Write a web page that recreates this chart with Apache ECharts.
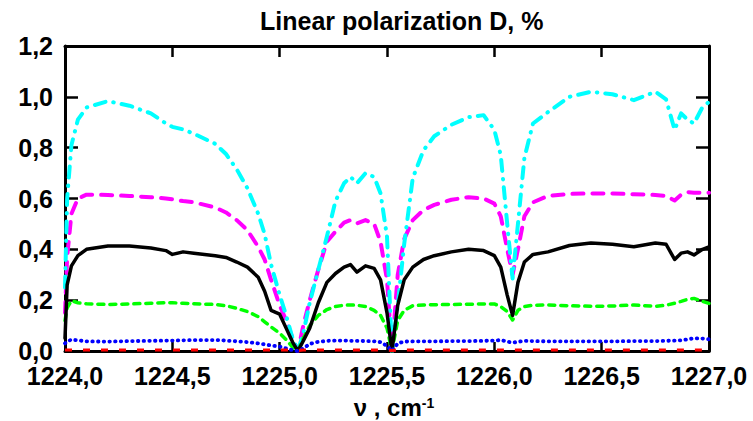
<!DOCTYPE html>
<html>
<head>
<meta charset="utf-8">
<script src="https://cdn.jsdelivr.net/npm/echarts@6/dist/echarts.min.js"></script>
<style>
  html, body { margin: 0; padding: 0; background: #fff; }
  #chart { width: 753px; height: 421px; }
</style>
</head>
<body>
<div id="chart"></div>
<script>
// Wavenumber grid (cm^-1), denser around the absorption lines
const wavenumbers = [
  1224.00, 1224.01, 1224.03, 1224.06, 1224.10, 1224.20, 1224.30, 1224.40, 1224.47, 1224.50,
  1224.55, 1224.60, 1224.70, 1224.75, 1224.80, 1224.85, 1224.90, 1224.93, 1224.96, 1225.00,
  1225.03, 1225.06, 1225.085, 1225.11, 1225.14, 1225.18, 1225.22, 1225.26, 1225.30, 1225.33,
  1225.36, 1225.40, 1225.44, 1225.47, 1225.50, 1225.523, 1225.55, 1225.58, 1225.62, 1225.67,
  1225.72, 1225.80, 1225.88, 1225.95, 1226.00, 1226.03, 1226.06, 1226.085, 1226.11, 1226.14,
  1226.18, 1226.25, 1226.35, 1226.45, 1226.55, 1226.65, 1226.75, 1226.80, 1226.84, 1226.87,
  1226.90, 1226.93, 1226.97, 1227.00
];

// Degree of linear polarization D, one curve per case
const cyanD = [
  0.25, 0.60, 0.81, 0.91, 0.958, 0.983, 0.965, 0.935, 0.895, 0.882,
  0.872, 0.855, 0.815, 0.775, 0.715, 0.64, 0.54, 0.46, 0.34, 0.22,
  0.14, 0.05, 0.0, 0.07, 0.19, 0.32, 0.45, 0.59, 0.66, 0.685,
  0.66, 0.70, 0.685, 0.62, 0.45, 0.0, 0.18, 0.42, 0.68, 0.79,
  0.845, 0.89, 0.92, 0.928, 0.87, 0.77, 0.50, 0.285, 0.50, 0.76,
  0.895, 0.94, 1.0, 1.02, 1.01, 0.987, 1.02, 0.99, 0.87, 0.935,
  0.91, 0.895, 0.96, 0.98
];

const magentaD = [
  0.15, 0.37, 0.54, 0.60, 0.615, 0.614, 0.61, 0.605, 0.60, 0.597,
  0.59, 0.585, 0.565, 0.545, 0.515, 0.475, 0.41, 0.36, 0.28, 0.18,
  0.12, 0.05, 0.0, 0.10, 0.20, 0.32, 0.43, 0.47, 0.505, 0.515,
  0.502, 0.515, 0.50, 0.43, 0.28, 0.0, 0.30, 0.44, 0.515, 0.555,
  0.575, 0.595, 0.605, 0.60, 0.58, 0.53, 0.40, 0.30, 0.40, 0.53,
  0.585, 0.61, 0.618, 0.62, 0.62, 0.617, 0.614, 0.61, 0.592, 0.615,
  0.625, 0.623, 0.623, 0.623
];

const blackD = [
  0.05, 0.26, 0.335, 0.375, 0.40, 0.413, 0.413, 0.405, 0.395, 0.38,
  0.39, 0.385, 0.375, 0.368, 0.35, 0.33, 0.29, 0.235, 0.16, 0.145,
  0.09, 0.035, 0.0, 0.04, 0.09, 0.19, 0.27, 0.305, 0.33, 0.34,
  0.31, 0.335, 0.325, 0.28, 0.15, 0.0, 0.18, 0.28, 0.33, 0.36,
  0.375, 0.39, 0.40, 0.395, 0.375, 0.33, 0.22, 0.14, 0.27, 0.35,
  0.38, 0.39, 0.415, 0.425, 0.42, 0.41, 0.425, 0.42, 0.36, 0.385,
  0.39, 0.378, 0.40, 0.41
];

const greenD = [
  0.12, 0.17, 0.198, 0.19, 0.186, 0.183, 0.185, 0.188, 0.19, 0.19,
  0.188, 0.186, 0.183, 0.178, 0.168, 0.155, 0.135, 0.115, 0.095, 0.07,
  0.045, 0.015, 0.0, 0.05, 0.10, 0.14, 0.163, 0.175, 0.18, 0.181,
  0.18, 0.175, 0.16, 0.14, 0.09, 0.0, 0.12, 0.16, 0.178, 0.181,
  0.182, 0.183, 0.184, 0.185, 0.185, 0.175, 0.155, 0.122, 0.16, 0.175,
  0.18, 0.181, 0.178, 0.176, 0.177, 0.181, 0.176, 0.18, 0.188, 0.195,
  0.203, 0.207, 0.195, 0.187
];

const blueD = [
  0.03, 0.037, 0.045, 0.042, 0.038, 0.037, 0.039, 0.04, 0.041, 0.041,
  0.042, 0.043, 0.043, 0.041, 0.038, 0.035, 0.03, 0.026, 0.022, 0.017,
  0.01, 0.003, 0.0, 0.01, 0.028, 0.036, 0.04, 0.041, 0.041, 0.04,
  0.04, 0.039, 0.038, 0.035, 0.02, 0.0, 0.03, 0.037, 0.038, 0.038,
  0.038, 0.039, 0.039, 0.04, 0.041, 0.043, 0.037, 0.033, 0.036, 0.04,
  0.039, 0.038, 0.038, 0.038, 0.038, 0.039, 0.039, 0.04, 0.041, 0.042,
  0.046, 0.05, 0.049, 0.046
];

const redD = [
  0.004, 0.004, 0.004, 0.004, 0.004, 0.004, 0.004, 0.004, 0.004, 0.004,
  0.004, 0.004, 0.004, 0.004, 0.004, 0.004, 0.004, 0.004, 0.004, 0.004,
  0.004, 0.004, 0.002, 0.004, 0.004, 0.004, 0.004, 0.004, 0.004, 0.004,
  0.004, 0.004, 0.004, 0.004, 0.004, 0.002, 0.004, 0.004, 0.004, 0.004,
  0.004, 0.004, 0.004, 0.004, 0.004, 0.004, 0.004, 0.004, 0.004, 0.004,
  0.004, 0.004, 0.004, 0.004, 0.004, 0.004, 0.004, 0.004, 0.004, 0.004,
  0.004, 0.004, 0.004, 0.004
];

const titleText = 'Linear polarization D, %';
const xRange = { min: 1224, max: 1227, step: 0.5 };
const yRange = { min: 0, max: 1.2, step: 0.2 };

const FONT = '"Liberation Sans", Arial, sans-serif';
const commaDecimal = v => v.toFixed(1).replace('.', ',');
const pairs = ys => wavenumbers.map((x, i) => [x, ys[i]]);

function curve(name, ys, color, width, dash, cap, clip) {
  return {
    name, type: 'line', data: pairs(ys),
    showSymbol: false, symbol: 'none', smooth: false,
    xAxisIndex: 0, yAxisIndex: 0, clip: clip !== false, z: 3,
    lineStyle: { color, width, type: dash, cap: cap || 'round', join: 'round' },
    animation: false, silent: true
  };
}

const frame = { show: true, onZero: false, lineStyle: { color: '#000', width: 3 } };
const tickFont = { fontFamily: FONT, fontWeight: 'bold', fontSize: 25, lineHeight: 18, color: '#000' };

const chart = echarts.init(document.getElementById('chart'), null, { renderer: 'svg' });
chart.setOption({
  backgroundColor: '#fff',
  animation: false,
  title: {
    text: titleText, left: 255, top: 3,
    textStyle: { fontFamily: FONT, fontWeight: 'bold', fontSize: 25, color: '#000' }
  },
  grid: { left: 65, right: 44, top: 46, bottom: 70, containLabel: false, outerBoundsMode: 'none' },
  xAxis: [{
    type: 'value', position: 'bottom',
    min: xRange.min, max: xRange.max, interval: xRange.step,
    axisLine: frame,
    axisTick: { show: true, inside: true, length: 9, lineStyle: { color: '#000', width: 2.5 } },
    splitLine: { show: false },
    axisLabel: Object.assign({ formatter: commaDecimal, margin: 16 }, tickFont),
    name: 'ν , cm{sup|-1}', nameLocation: 'middle', nameGap: 45,
    nameTextStyle: {
      fontFamily: FONT, fontWeight: 'bold', fontSize: 24, lineHeight: 22, color: '#000',
      padding: [0, 0, 0, 14],
      rich: { sup: { fontFamily: FONT, fontWeight: 'bold', fontSize: 14, color: '#000', verticalAlign: 'top', padding: [0, 0, 10, 0] } }
    }
  }, {
    type: 'value', position: 'top',
    min: xRange.min, max: xRange.max, interval: xRange.step,
    axisLine: frame,
    axisTick: { show: true, inside: true, length: 11, lineStyle: { color: '#000', width: 2.5 } },
    axisLabel: { show: false }, splitLine: { show: false }
  }],
  yAxis: [{
    type: 'value', position: 'left',
    min: yRange.min, max: yRange.max, interval: yRange.step,
    axisLine: frame,
    axisTick: { show: true, inside: true, length: 13, lineStyle: { color: '#000', width: 2.5 } },
    splitLine: { show: false },
    axisLabel: Object.assign({ formatter: commaDecimal, margin: 12 }, tickFont)
  }, {
    type: 'value', position: 'right',
    min: yRange.min, max: yRange.max, interval: yRange.step,
    axisLine: frame,
    axisTick: { show: true, inside: true, length: 13, lineStyle: { color: '#000', width: 2.5 } },
    axisLabel: { show: false }, splitLine: { show: false }
  }],
  series: [
    curve('magenta', magentaD, '#ff00ff', 4, [11, 9], 'round'),
    curve('cyan', cyanD, '#00ffff', 4, [11, 8, 0.5, 8], 'round'),
    curve('green', greenD, '#00ff00', 3.5, [6, 6], 'round'),
    curve('black', blackD, '#000000', 3.5, 'solid', 'round'),
    curve('blue', blueD, '#0000ff', 3.8, [0.5, 5.2], 'round'),
    curve('red', redD, '#ff0000', 3.2, [7, 11], 'butt', false)
  ]
});
</script>
</body>
</html>
